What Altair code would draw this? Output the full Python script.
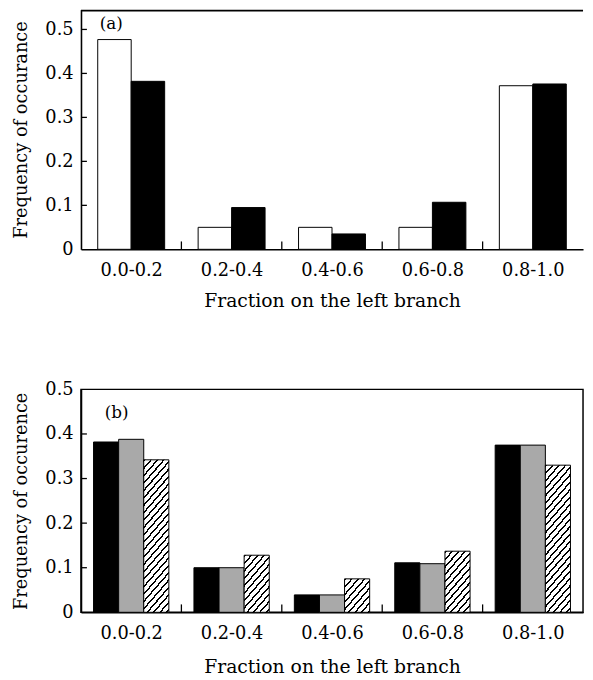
import altair as alt
import pandas as pd

categories = ["0.0-0.2", "0.2-0.4", "0.4-0.6", "0.6-0.8", "0.8-1.0"]

top_series = ["open", "filled"]
top_open = [0.477, 0.050, 0.050, 0.050, 0.372]
top_filled = [0.382, 0.095, 0.035, 0.107, 0.376]

bottom_series = ["black", "gray", "hatched"]
bottom_black = [0.382, 0.100, 0.039, 0.111, 0.375]
bottom_gray = [0.388, 0.100, 0.039, 0.109, 0.375]
bottom_hatched = [0.342, 0.128, 0.075, 0.137, 0.330]

top_yticks = [0, 0.1, 0.2, 0.3, 0.4, 0.5]
bottom_yticks = [0, 0.1, 0.2, 0.3, 0.4, 0.5]

x_title = "Fraction on the left branch"
top_ytitle = "Frequency of occurance"
bottom_ytitle = "Frequency of occurence"

FONT = "DejaVu Serif"
W = 509
H_TOP = 243
H_BOT = 226
TOP_MAX = 0.545
BOT_MAX = 0.5
NCAT = len(categories)


def long_df(names, arrays):
    rows = []
    for s, arr in zip(names, arrays):
        for c, v in zip(categories, arr):
            rows.append({"cat": c, "series": s, "value": v})
    return pd.DataFrame(rows)


top_df = long_df(top_series, [top_open, top_filled])
bot_df = long_df(bottom_series, [bottom_black, bottom_gray, bottom_hatched])

x_scale = alt.Scale(domain=[0, NCAT], nice=False, zero=False)
cat_js = "[" + ",".join("'%s'" % c for c in categories) + "]"
x_label_expr = cat_js + "[floor(datum.value)]"
y_label_expr = "datum.value == 0 ? '0' : format(datum.value, '.1f')"
x_centers = [i + 0.5 for i in range(NCAT)]


def make_axes(xlab_pad, xtitle_pad, yticks):
    xa = alt.Axis(values=x_centers, labelExpr=x_label_expr, ticks=False,
                  labelPadding=xlab_pad, titlePadding=xtitle_pad,
                  labelFlush=False, labelOverlap=False, titleFontSize=19)
    ya = alt.Axis(values=yticks, labelExpr=y_label_expr, ticks=False,
                  labelPadding=8, titlePadding=15, titleFontSize=18)
    return xa, ya


def bar_layer(df, names, series, yscale, fill, axes, ytitle, grad=None, cat=None):
    n = len(names)
    names_js = "[" + ",".join("'%s'" % s for s in names) + "]"
    test = alt.datum.series == series
    if cat is not None:
        test = test & (alt.datum.cat == cat)
    xa, ya = axes
    return alt.Chart(df).transform_filter(test).transform_calculate(
        x0="indexof(%s, datum.cat) + (indexof(%s, datum.series) + 0.5) / %d" % (cat_js, names_js, n + 1),
        x1="indexof(%s, datum.cat) + (indexof(%s, datum.series) + 1.5) / %d" % (cat_js, names_js, n + 1),
        y0="0",
    ).mark_bar(
        fill=grad if grad is not None else fill, stroke="black", strokeWidth=1
    ).encode(
        x=alt.X("x0:Q", scale=x_scale, title=x_title, axis=xa),
        x2="x1:Q",
        y=alt.Y("value:Q", scale=yscale, title=ytitle, axis=ya),
        y2="y0:Q",
    )


def boundary_ticks(h, axes):
    return alt.Chart(pd.DataFrame({"b": list(range(1, NCAT))})).mark_rule(
        color="black", strokeWidth=1.3
    ).encode(x=alt.X("b:Q", scale=x_scale, title=x_title, axis=axes[0]),
             y=alt.value(h), y2=alt.value(h - 8))


def y_ticks(vals, yscale, axes, ytitle):
    return alt.Chart(pd.DataFrame({"t": vals})).mark_rule(
        color="black", strokeWidth=1.3
    ).encode(y=alt.Y("t:Q", scale=yscale, title=ytitle, axis=axes[1]),
             x=alt.value(0), x2=alt.value(6))


# ---------------- top panel (a) ----------------
top_y = alt.Scale(domain=[0, TOP_MAX], nice=False)
top_axes = make_axes(13, 12, top_yticks)

top_open_bars = bar_layer(top_df, top_series, "open", top_y, "white", top_axes, top_ytitle)
top_filled_bars = bar_layer(top_df, top_series, "filled", top_y, "black", top_axes, top_ytitle)

top_border = alt.Chart(pd.DataFrame({"k": [0]})).mark_rule(
    color="black", strokeWidth=2
).encode(x=alt.value(0), x2=alt.value(W), y=alt.value(1))

top_label = alt.Chart(pd.DataFrame({"label": ["(a)"]})).mark_text(
    align="left", baseline="alphabetic", font=FONT, fontSize=17, color="black",
    x=19, y=20
).encode(text="label:N")

top_chart = alt.layer(
    top_open_bars, top_filled_bars, boundary_ticks(H_TOP, top_axes),
    y_ticks(top_yticks[1:], top_y, top_axes, top_ytitle), top_border, top_label
).properties(width=W, height=H_TOP, view=alt.ViewBackground(stroke="transparent"))


# ---------------- bottom panel (b) ----------------
bot_y = alt.Scale(domain=[0, BOT_MAX], nice=False)
bot_axes = make_axes(13, 15, bottom_yticks)
bar_w = W / NCAT / (len(bottom_series) + 1)


def hatch_gradient(h, w, m=1.15, period=7.5, line=2.2):
    L = m * w + h
    denom = (m * w) ** 2 + h ** 2
    t = L / denom
    stops = []
    k = 0
    while k * period < L:
        a = k * period / L
        b = min((k * period + line) / L, 1.0)
        c = min((k + 1) * period / L, 1.0)
        stops += [
            alt.GradientStop(offset=a, color="black"),
            alt.GradientStop(offset=b, color="black"),
            alt.GradientStop(offset=b, color="white"),
            alt.GradientStop(offset=c, color="white"),
        ]
        k += 1
    return alt.LinearGradient(gradient="linear", stops=stops, x1=0, y1=0,
                              x2=t * m * w, y2=t * h)


bot_black_bars = bar_layer(bot_df, bottom_series, "black", bot_y, "black", bot_axes, bottom_ytitle)
bot_gray_bars = bar_layer(bot_df, bottom_series, "gray", bot_y, "#a9a9a9", bot_axes, bottom_ytitle)

hatch_layers = []
for c, v in zip(categories, bottom_hatched):
    grad = hatch_gradient(v * H_BOT / BOT_MAX, bar_w)
    hatch_layers.append(bar_layer(bot_df, bottom_series, "hatched", bot_y, "white",
                                  bot_axes, bottom_ytitle, grad=grad, cat=c))

bot_label = alt.Chart(pd.DataFrame({"label": ["(b)"]})).mark_text(
    align="left", baseline="alphabetic", font=FONT, fontSize=17, color="black",
    x=24, y=29
).encode(text="label:N")

bot_chart = alt.layer(
    bot_black_bars, bot_gray_bars, *hatch_layers, boundary_ticks(H_BOT, bot_axes),
    y_ticks(bottom_yticks[1:5], bot_y, bot_axes, bottom_ytitle), bot_label
).properties(width=W, height=H_BOT)

chart = alt.vconcat(
    top_chart, bot_chart, spacing=69,
    padding={"left": 3, "top": -4, "right": 0, "bottom": 0},
).configure_axis(
    labelFont=FONT, titleFont=FONT, labelFontSize=18,
    titleFontWeight="normal", labelColor="black", titleColor="black",
    domainColor="black", domainWidth=1.6, grid=False,
).configure_view(
    stroke="black", strokeWidth=1.5
)

chart.save("out.html", embed_options={"renderer": "svg", "actions": False})
